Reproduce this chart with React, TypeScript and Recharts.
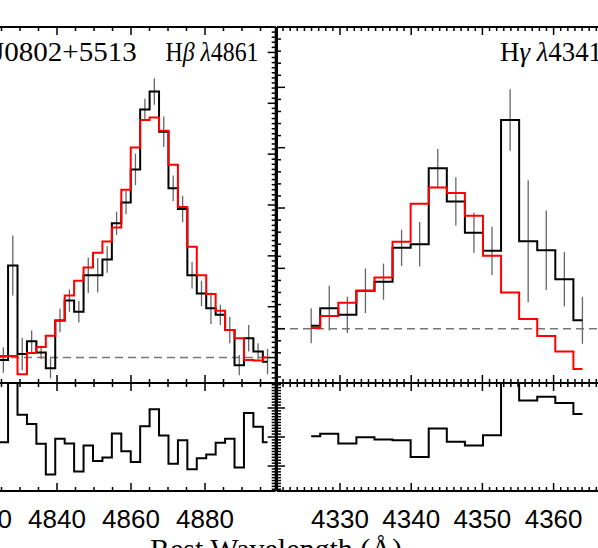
import React from 'react';
import { LineChart, Line, XAxis, YAxis, ReferenceLine, ErrorBar } from 'recharts';

// H-beta panel (left): bin centres, observed flux, model fit, 1-sigma errors, residuals
const hbWave = [4822.95, 4825.5, 4828.05, 4830.6, 4833.15, 4835.7, 4838.25, 4840.8, 4843.35, 4845.9, 4848.45, 4851.0, 4853.55, 4856.1, 4858.65, 4861.2, 4863.75, 4866.3, 4868.85, 4871.4, 4873.95, 4876.5, 4879.05, 4881.6, 4884.15, 4886.7, 4889.25, 4891.8, 4894.35, 4896.9];
const hbObs = [-0.05, -0.05, 1.81, 0.07, 0.32, 0.1, -0.21, 0.73, 1.12, 0.9, 1.62, 1.62, 1.93, 2.64, 3.05, 3.7, 4.88, 5.23, 4.44, 3.33, 2.92, 1.62, 1.26, 0.97, 0.84, 0.54, -0.15, 0.38, 0.12, -0.08];
const hbFit = [0.03, 0.03, 0.03, -0.33, 0.09, 0.21, 0.43, 0.73, 1.22, 1.51, 1.77, 2.06, 2.28, 2.56, 3.3, 4.13, 4.67, 4.72, 4.46, 3.79, 2.96, 2.18, 1.62, 1.25, 0.92, 0.54, 0.38, -0.05, -0.06, 0.0];
const hbErr = [0, 0.25, 0.59, 0.32, 0.21, 0.13, 0.2, 0.23, 0.22, 0.21, 0.35, 0.34, 0.26, 0.23, 0.23, 0.31, 0.21, 0.26, 0.3, 0.25, 0.26, 0.26, 0.25, 0.31, 0.2, 0.26, 0.2, 0.26, 0.16, 0.25];
const hbResid = [-0.18, -0.18, 3.0, 0.77, 0.45, -0.23, -1.29, -0.06, -0.22, -1.19, -0.29, -0.83, -0.71, 0.12, -0.49, -0.86, 0.37, 0.96, 0.05, -0.92, -0.11, -1.11, -0.73, -0.6, -0.2, -0.06, -1.05, 0.83, 0.35, -0.18];

// H-gamma panel (right)
const hgWave = [4325.95, 4328.49, 4331.03, 4333.57, 4336.11, 4338.65, 4341.19, 4343.73, 4346.27, 4348.81, 4351.35, 4353.89, 4356.43, 4358.97, 4361.51, 4364.05];
const hgObs = [0.05, 0.34, 0.23, 0.63, 0.78, 1.34, 1.4, 2.66, 2.11, 1.59, 1.29, 3.46, 1.45, 1.3, 0.82, 0.14];
const hgFit = [0.01, 0.21, 0.43, 0.63, 0.85, 1.44, 2.07, 2.34, 2.25, 1.87, 1.21, 0.6, 0.16, -0.12, -0.38, -0.67];
const hgErr = [0.29, 0.37, 0.3, 0.37, 0.3, 0.3, 0.37, 0.32, 0.4, 0.33, 0.4, 0.51, 1.01, 0.66, 0.45, 0.39];
const hgResid = [0.03, 0.11, -0.22, -0.01, -0.09, -0.11, -0.69, 0.29, -0.16, -0.29, 0.06, 3.0, 1.26, 1.39, 1.17, 0.79];

// tick labels
const hbLabels = [4820, 4840, 4860, 4880];
const hgLabels = [4330, 4340, 4350, 4360];

const steps = (from: number, to: number, step: number) => {
  const out: number[] = [];
  for (let v = from; v <= to + 1e-9; v += step) out.push(Math.round(v * 1000) / 1000);
  return out;
};
const isMajor = (v: number, major: number) => Math.abs(v / major - Math.round(v / major)) < 1e-6;

const hbTicksX = steps(4810, 4895, 5);
const hgTicksX = steps(4322, 4370, 1);
const hbTicksY = steps(-0.5, 6.5, 0.1);
const hgTicksY = steps(-0.8, 5.0, 0.2);
const residTicksY = steps(-1.8, 1.8, 0.1);

const hbMain = hbWave.map((w, i) => ({ w, obs: hbObs[i], fit: hbFit[i], err: hbErr[i] }));
const hbRes = hbWave.map((w, i) => ({ w, res: hbResid[i] }));
const hgMain = hgWave.map((w, i) => ({ w, obs: hgObs[i], fit: hgFit[i], err: hgErr[i] }));
const hgRes = hgWave.map((w, i) => ({ w, res: hgResid[i] }));

const M = 4;
const AXIS = { stroke: '#000', strokeWidth: 2 };
const SANS = "'Liberation Sans', Arial, sans-serif";
const SERIF = "'Liberation Serif', 'Times New Roman', serif";

const Mark = (props: any) => {
  const { x, y, payload, dir, major, big = 8, small = 4, labels } = props;
  const len = isMajor(payload.value, major) ? big : small;
  let x2 = x;
  let y2 = y;
  if (dir === 'up') y2 = y - len;
  if (dir === 'down') y2 = y + len;
  if (dir === 'left') x2 = x - len;
  if (dir === 'right') x2 = x + len;
  const showLabel = labels && labels.includes(payload.value);
  return (
    <g>
      <line x1={x} y1={y} x2={x2} y2={y2} stroke="#000" strokeWidth={1.5} />
      {showLabel && (
        <text x={x} y={y + 37.3} textAnchor="middle" fontSize={26} fontFamily={SANS} fill="#000">
          {payload.value}
        </text>
      )}
    </g>
  );
};

const xTickProps = {
  type: 'number' as const,
  dataKey: 'w',
  allowDataOverflow: true,
  tickSize: 0,
  tickMargin: 0,
  tickLine: false,
  interval: 0 as const,
  axisLine: AXIS,
};

const Panel = (props: any) => {
  const { left, top, plotW, plotH, data, xDomain, xTicks, xMajor, yDomain, yTicks, ySide, resid, labels, dashEnd } = props;
  const bottomH = resid ? 56 : 1;
  const yDir = ySide === 'right' ? 'left' : 'right';
  return (
    <div style={{ position: 'absolute', left: left - M, top: top - M }}>
      <LineChart width={plotW + 2 * M} height={plotH + 2 * M + (resid ? 55 : 0)} data={data} margin={{ top: M, right: M, bottom: M, left: M }}>
        <XAxis
          {...xTickProps}
          xAxisId="b"
          orientation="bottom"
          mirror={!resid}
          height={bottomH}
          domain={xDomain}
          ticks={xTicks}
          tick={(p: any) => <Mark {...p} dir="up" major={xMajor} labels={resid ? labels : null} />}
        />
        <XAxis
          {...xTickProps}
          xAxisId="t"
          orientation="top"
          mirror
          height={1}
          domain={xDomain}
          ticks={xTicks}
          tick={(p: any) => <Mark {...p} dir="down" major={xMajor} />}
        />
        <YAxis
          yAxisId="y"
          type="number"
          orientation={ySide}
          mirror
          width={1}
          domain={yDomain}
          allowDataOverflow
          ticks={yTicks}
          interval={0}
          tickSize={0}
          tickMargin={0}
          tickLine={false}
          axisLine={AXIS}
          tick={(p: any) => <Mark {...p} dir={yDir} major={1} />}
        />
        {!resid && dashEnd !== undefined && (
          <ReferenceLine
            xAxisId="b"
            yAxisId="y"
            segment={[{ x: xDomain[0], y: 0 }, { x: dashEnd, y: 0 }]}
            stroke="#777"
            strokeWidth={1.5}
            strokeDasharray="8 5"
          />
        )}
        {!resid && dashEnd === undefined && (
          <ReferenceLine xAxisId="b" yAxisId="y" y={0} stroke="#777" strokeWidth={1.5} strokeDasharray="8 5" />
        )}
        {!resid && (
          <Line xAxisId="b" yAxisId="y" dataKey="obs" type="step" stroke="#000" strokeWidth={2} dot={false} isAnimationActive={false}>
            <ErrorBar dataKey="err" direction="y" width={0} stroke="#666" strokeWidth={1.3} isAnimationActive={false} />
          </Line>
        )}
        {!resid && (
          <Line xAxisId="b" yAxisId="y" dataKey="fit" type="step" stroke="#ff0000" strokeWidth={2} dot={false} isAnimationActive={false} />
        )}
        {resid && (
          <Line xAxisId="b" yAxisId="y" dataKey="res" type="step" stroke="#000" strokeWidth={2} dot={false} isAnimationActive={false} />
        )}
      </LineChart>
    </div>
  );
};

export default function App() {
  const hbX = { left: -53.7, plotW: 329.7, xDomain: [4810, 4899.1], xTicks: hbTicksX, xMajor: 20, ySide: 'right', labels: hbLabels };
  const hgX = { left: 277, plotW: 347.8, xDomain: [4321.15, 4370], xTicks: hgTicksX, xMajor: 10, ySide: 'left', labels: hgLabels };
  return (
    <div style={{ position: 'absolute', left: 0, top: 0, width: 598, height: 548, overflow: 'hidden', background: '#fff' }}>
      <Panel {...hbX} top={27} plotH={356} data={hbMain} yDomain={[-0.5, 6.5]} yTicks={hbTicksY} dashEnd={4896.9} />
      <Panel {...hbX} top={383} plotH={109} data={hbRes} yDomain={[-1.86, 1.86]} yTicks={residTicksY} resid />
      <Panel {...hgX} top={27} plotH={356} data={hgMain} yDomain={[-0.9, 5.0]} yTicks={hgTicksY} />
      <Panel {...hgX} top={383} plotH={109} data={hgRes} yDomain={[-1.86, 1.86]} yTicks={residTicksY} resid />
      <svg width={598} height={548} style={{ position: 'absolute', left: 0, top: 0, pointerEvents: 'none' }}>
        <g fontFamily={SERIF} fontSize={28} fill="#000">
          <text x={-7} y={61} textLength={143.7} lengthAdjust="spacingAndGlyphs">J0802+5513</text>
          <text x={165.5} y={61} textLength={93} lengthAdjust="spacingAndGlyphs">
            H<tspan fontStyle="italic">β</tspan> <tspan fontStyle="italic">λ</tspan>4861
          </text>
          <text x={500} y={61} textLength={102} lengthAdjust="spacingAndGlyphs">
            H<tspan fontStyle="italic">γ</tspan> <tspan fontStyle="italic">λ</tspan>4341
          </text>
          <text x={276} y={559} textAnchor="middle" fontSize={30}>Rest Wavelength (Å)</text>
        </g>
      </svg>
    </div>
  );
}
